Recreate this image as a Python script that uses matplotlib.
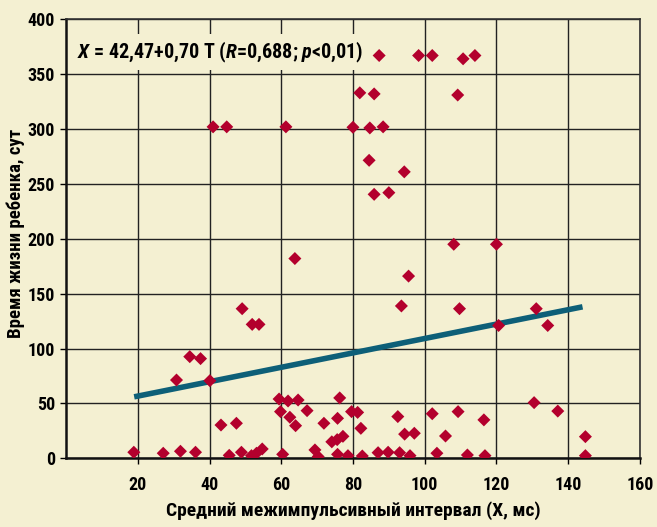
import matplotlib
matplotlib.use("Agg")
import matplotlib.pyplot as plt

# Data
x_vals = [18.9, 27.1, 31.9, 36.1, 30.8, 34.5, 37.5, 40.1, 41.0, 44.8,
          43.2, 47.5, 45.5, 48.9, 51.7, 53.1, 54.7, 49.1, 51.9, 53.8,
          59.4, 61.9, 64.7, 59.8, 62.4, 64.0, 60.4, 61.3, 63.8, 67.2,
          69.4, 70.3, 71.9, 74.1, 75.6, 77.2, 75.7, 76.3, 75.7, 78.6,
          79.6, 81.3, 82.2, 82.6, 80.0, 81.9, 84.7, 85.9, 88.4, 84.5,
          85.9, 90.0, 87.3, 87.0, 89.8, 92.5, 93.0, 94.4, 93.5, 94.3,
          95.5, 95.9, 97.1, 98.3, 102.1, 102.1, 103.4, 105.8, 108.1, 109.3,
          109.2, 109.7, 110.7, 114.0, 111.9, 116.5, 116.8, 120.0, 120.6, 130.5,
          131.1, 134.3, 137.1, 144.8, 144.8]
y_vals = [5.5, 4.6, 6.4, 5.5, 71.3, 92.6, 90.8, 70.7, 302, 302,
          30.3, 31.9, 2.7, 5.5, 2.4, 4.6, 8.5, 136.3, 122, 122,
          54, 52.2, 53.1, 42.5, 37.4, 29.7, 3.6, 302, 182, 43.4,
          7.6, 1.5, 31.9, 15, 17, 20, 36.4, 55, 3.6, 2.4,
          42.5, 41.8, 27.3, 2.1, 301.6, 333, 301, 332, 302, 271.5,
          240.5, 242, 367, 5.1, 5.5, 38, 5.1, 22, 138.8, 261,
          166, 2.4, 22.8, 367, 367, 40.6, 4.6, 20.3, 195, 42.5,
          331, 136.3, 364, 367, 3.0, 35, 2.4, 195, 121, 50.7,
          136.3, 121, 43, 19.7, 2.4]

# regression line ends
line_x = [19, 144]
line_y = [56, 138]

x_ticks = [20, 40, 60, 80, 100, 120, 140, 160]
y_ticks = [0, 50, 100, 150, 200, 250, 300, 350, 400]

bg = "#f4f0d2"
fam = "Roboto Condensed"
plt.rcParams["font.family"] = [fam, "DejaVu Sans"]
plt.rcParams["font.weight"] = "bold"
plt.rcParams["mathtext.fontset"] = "custom"
plt.rcParams["mathtext.rm"] = fam + ":bold"
plt.rcParams["mathtext.it"] = fam + ":italic:bold"

fig = plt.figure(figsize=(6.57, 5.27), dpi=100, facecolor=bg)
ax = fig.add_axes([0.1005, 0.1304, 0.8735, 0.833])
ax.set_facecolor(bg)

ax.set_xlim(0, 160)
ax.set_ylim(0, 400)
ax.set_xticks(x_ticks)
ax.set_yticks(y_ticks)
ax.grid(True, color="#222222", linewidth=1.0, zorder=0)
ax.set_axisbelow(True)

for side in ["left", "bottom"]:
    ax.spines[side].set_linewidth(1.8)
    ax.spines[side].set_color("#111111")
for side in ["top", "right"]:
    ax.spines[side].set_linewidth(1.2)
    ax.spines[side].set_color("#333333")

ax.tick_params(axis="x", length=4, width=1, pad=9, labelsize=13)
ax.tick_params(axis="y", length=4, width=1, pad=4, labelsize=13)

ax.plot(line_x, line_y, color="#0d5f78", linewidth=4, solid_capstyle="butt", zorder=3)
ax.scatter(x_vals, y_vals, marker="D", s=44, color="#b3002d", edgecolors="none", zorder=4)

ax.text(3.1, 370, r"$\mathit{X}$ = 42,47+0,70 T ($\mathit{R}$=0,688; $\mathit{p}$<0,01)",
        fontsize=14.5, fontweight="bold", va="center", ha="left", zorder=3.5,
        bbox=dict(facecolor=bg, edgecolor="none", pad=4))

ax.set_xlabel("Средний межимпульсивный интервал (X, мс)", fontsize=14, fontweight="bold")
ax.xaxis.set_label_coords(0.5, -0.12)
ax.xaxis.label.set_verticalalignment("center")
ax.set_ylabel("Время жизни ребенка, сут", fontsize=13.5, fontweight="bold")
ax.yaxis.set_label_coords(-0.087, 0.512)
ax.yaxis.label.set_verticalalignment("center")

fig.savefig("out.png", dpi=100, facecolor=bg)
